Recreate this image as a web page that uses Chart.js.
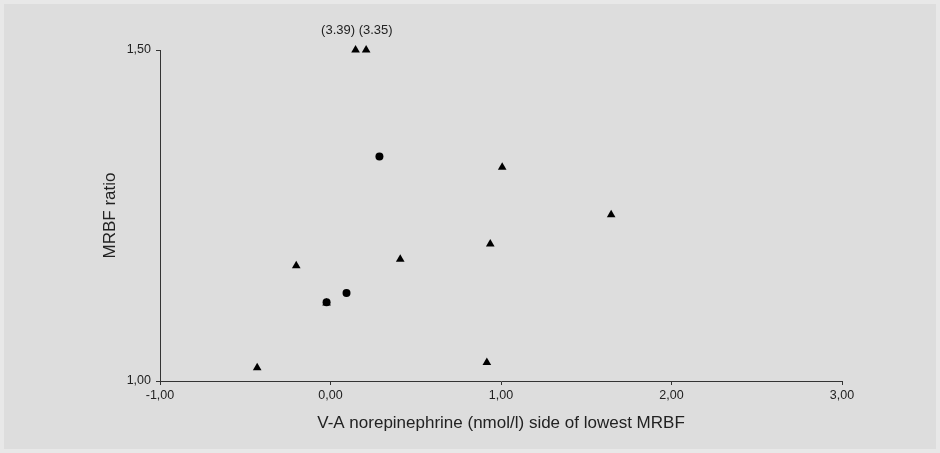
<!DOCTYPE html>
<html>
<head>
<meta charset="utf-8">
<script src="https://cdn.jsdelivr.net/npm/chart.js@4/dist/chart.umd.min.js"></script>
<style>
  html, body { margin: 0; padding: 0; background: #e8e8e8; }
  #wrap { position: absolute; left: 4px; top: 4px; width: 932px; height: 445px; background: #dddddd; }
  canvas { position: absolute; left: 0; top: 0; }
</style>
</head>
<body>
<div id="wrap"></div>
<canvas id="c" width="940" height="453"></canvas>
<script>
// Data (x: V-A norepinephrine, y: MRBF ratio)
const triangleX = [0.147, 0.209, 1.007, 1.646, 0.937, 0.409, -0.201, -0.023, 0.917, -0.430];
const triangleY = [1.50, 1.50, 1.323, 1.251, 1.207, 1.184, 1.174, 1.118, 1.028, 1.020];
const circleX = [0.287, 0.094, -0.023];
const circleY = [1.339, 1.133, 1.119];
const xTicks = [-1, 0, 1, 2, 3];
const yTicks = [1.0, 1.5];
const offScaleLabels = ["(3.39)", "(3.35)"]; // true values of the two points plotted at 1.50

const toPts = (xs, ys) => xs.map((x, i) => ({ x: x, y: ys[i] }));
const fmt = v => v.toFixed(2).replace('.', ',');
const FONT = "'Liberation Sans', Arial, sans-serif";

const labelPlugin = {
  id: 'offScaleLabels',
  afterDatasetsDraw(chart) {
    const ctx = chart.ctx;
    const meta = chart.getDatasetMeta(0);
    const p0 = meta.data[0], p1 = meta.data[1];
    ctx.save();
    ctx.font = "13px " + FONT;
    ctx.fillStyle = '#222';
    ctx.textAlign = 'center';
    ctx.textBaseline = 'middle';
    const cx = (p0.x + p1.x) / 2 - 4;
    ctx.fillText(offScaleLabels.join(' '), cx, p0.y - 19.5);
    ctx.restore();
  }
};

new Chart(document.getElementById('c'), {
  type: 'scatter',
  data: {
    datasets: [
      {
        data: toPts(triangleX, triangleY),
        pointStyle: 'triangle',
        pointRadius: 5,
        pointHoverRadius: 5,
        backgroundColor: '#000',
        borderColor: '#000',
        borderWidth: 0,
        clip: false
      },
      {
        data: toPts(circleX, circleY),
        pointStyle: 'circle',
        pointRadius: 4,
        pointHoverRadius: 4,
        backgroundColor: '#000',
        borderColor: '#000',
        borderWidth: 0,
        clip: false
      }
    ]
  },
  options: {
    responsive: false,
    animation: false,
    events: [],
    layout: { padding: { left: 96, right: 98, top: 50, bottom: 15 } },
    plugins: { legend: { display: false }, tooltip: { enabled: false } },
    scales: {
      x: {
        type: 'linear',
        min: -1, max: 3,
        afterBuildTicks: s => { s.ticks = xTicks.map(v => ({ value: v })); },
        afterFit: s => { s.height = 57; },
        grid: { display: true, drawOnChartArea: false, drawTicks: true, tickLength: 4, color: '#333', lineWidth: 1 },
        border: { display: true, color: '#333', width: 1 },
        ticks: { callback: v => fmt(v), font: { family: FONT, size: 12.5 }, color: '#222', padding: 3, maxRotation: 0 },
        title: { display: true, text: 'V-A norepinephrine (nmol/l) side of lowest MRBF', font: { family: FONT, size: 17 }, color: '#222', padding: { top: 4, bottom: 4 } }
      },
      y: {
        type: 'linear',
        min: 1.0, max: 1.5,
        afterBuildTicks: s => { s.ticks = yTicks.map(v => ({ value: v })); },
        afterFit: s => { s.width = 64; },
        grid: { display: true, drawOnChartArea: false, drawTicks: true, tickLength: 4, color: '#333', lineWidth: 1 },
        border: { display: true, color: '#333', width: 1 },
        ticks: { callback: v => fmt(v), font: { family: FONT, size: 12.5 }, color: '#222', padding: 5 },
        title: { display: true, text: 'MRBF ratio', font: { family: FONT, size: 17 }, color: '#222', padding: { top: 4, bottom: 4 } }
      }
    }
  },
  plugins: [labelPlugin]
});
</script>
</body>
</html>
